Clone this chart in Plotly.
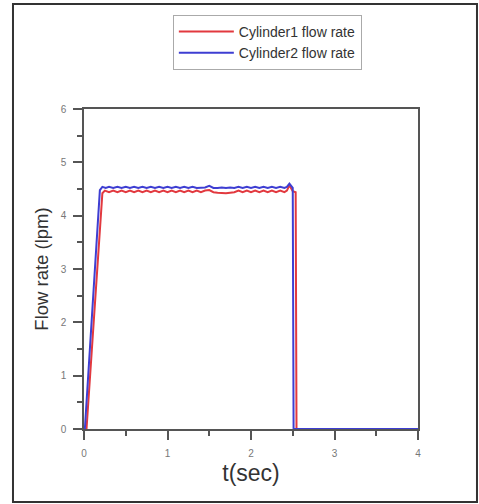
import plotly.graph_objects as go

# Cylinder1 (red)
red_t = [0.0, 0.03, 0.22,
         0.25, 0.30, 0.35, 0.40, 0.45, 0.50, 0.55, 0.60, 0.65, 0.70,
         0.75, 0.80, 0.85, 0.90, 0.95, 1.00, 1.05, 1.10, 1.15, 1.20,
         1.25, 1.30, 1.35, 1.40, 1.45, 1.50, 1.55, 1.60, 1.65, 1.70,
         1.75, 1.80, 1.85, 1.90, 1.95, 2.00, 2.05, 2.10, 2.15, 2.20,
         2.25, 2.30, 2.35, 2.40, 2.43, 2.46, 2.50, 2.535, 2.545, 4.0]
red_v = [0.0, 0.0, 4.42,
         4.47, 4.44, 4.47, 4.44, 4.47, 4.44, 4.47, 4.44, 4.47, 4.44,
         4.47, 4.44, 4.47, 4.44, 4.47, 4.44, 4.47, 4.44, 4.47, 4.44,
         4.47, 4.44, 4.47, 4.44, 4.47, 4.48, 4.44, 4.43, 4.42, 4.42,
         4.43, 4.44, 4.47, 4.44, 4.47, 4.44, 4.47, 4.44, 4.47, 4.44,
         4.47, 4.44, 4.47, 4.44, 4.47, 4.57, 4.46, 4.44, 0.0, 0.0]

# Cylinder2 (blue)
blue_t = [0.0, 0.01, 0.19,
          0.22, 0.26, 0.30, 0.35, 0.40, 0.45, 0.50, 0.55, 0.60, 0.65, 0.70,
          0.75, 0.80, 0.85, 0.90, 0.95, 1.00, 1.05, 1.10, 1.15, 1.20,
          1.25, 1.30, 1.35, 1.40, 1.45, 1.50, 1.55, 1.60, 1.65, 1.70,
          1.75, 1.80, 1.85, 1.90, 1.95, 2.00, 2.05, 2.10, 2.15, 2.20,
          2.25, 2.30, 2.35, 2.40, 2.43, 2.46, 2.49, 2.50, 2.51, 4.0]
blue_v = [0.0, 0.0, 4.48,
          4.54, 4.52, 4.54, 4.52, 4.54, 4.52, 4.54, 4.52, 4.54, 4.52, 4.54,
          4.52, 4.54, 4.52, 4.54, 4.52, 4.54, 4.52, 4.54, 4.52, 4.54,
          4.52, 4.54, 4.52, 4.53, 4.53, 4.56, 4.52, 4.52, 4.53, 4.52,
          4.53, 4.52, 4.54, 4.52, 4.54, 4.52, 4.54, 4.52, 4.54, 4.52,
          4.54, 4.52, 4.54, 4.52, 4.54, 4.60, 4.53, 4.52, 0.0, 0.0]

names = ["Cylinder1 flow rate", "Cylinder2 flow rate"]
x_ticks = [0, 1, 2, 3, 4]
y_ticks = [0, 1, 2, 3, 4, 5, 6]

fig = go.Figure()
fig.add_trace(go.Scatter(x=red_t, y=red_v, mode="lines", name=names[0],
                         line=dict(color="#e2393f", width=2)))
fig.add_trace(go.Scatter(x=blue_t, y=blue_v, mode="lines", name=names[1],
                         line=dict(color="#3e3ed2", width=2)))

axis_common = dict(
    showline=True, linecolor="#555555", linewidth=1.5, mirror=True,
    showgrid=False, zeroline=False,
    ticks="outside", ticklen=9, tickwidth=1.5, tickcolor="#555555",
    ticklabelstandoff=5,
    tickfont=dict(family="Arial, Liberation Sans, sans-serif", size=10, color="#777777"),
    minor=dict(ticks="outside", ticklen=5, tickwidth=1.5, tickcolor="#555555", dtick=0.5),
)

fig.update_layout(
    width=479, height=504,
    margin=dict(l=84, r=61, t=109, b=75),
    paper_bgcolor="white", plot_bgcolor="white",
    font=dict(family="Arial, Liberation Sans, sans-serif", color="#333333"),
    xaxis=dict(range=[0, 4], tickvals=x_ticks,
               title=dict(text="t(sec)", font=dict(size=23, color="#333333"), standoff=7),
               **axis_common),
    yaxis=dict(range=[0, 6], tickvals=y_ticks,
               title=dict(text="Flow rate (lpm)", font=dict(size=18.5, color="#333333"), standoff=7),
               **axis_common),
    legend=dict(x=0.266, y=1.294, xanchor="left", yanchor="top",
                bordercolor="#aaaaaa", borderwidth=1, bgcolor="white",
                font=dict(size=14, color="#333333"), itemwidth=55,
                tracegroupgap=0),
    showlegend=True,
    shapes=[dict(type="rect", xref="paper", yref="paper",
                 x0=-0.2126, x1=1.1766, y0=-0.228, y1=1.328,
                 line=dict(color="#333333", width=2))],
)

fig.write_html("out.html", config={"displayModeBar": False},
               post_script="document.body.style.margin='0';")
